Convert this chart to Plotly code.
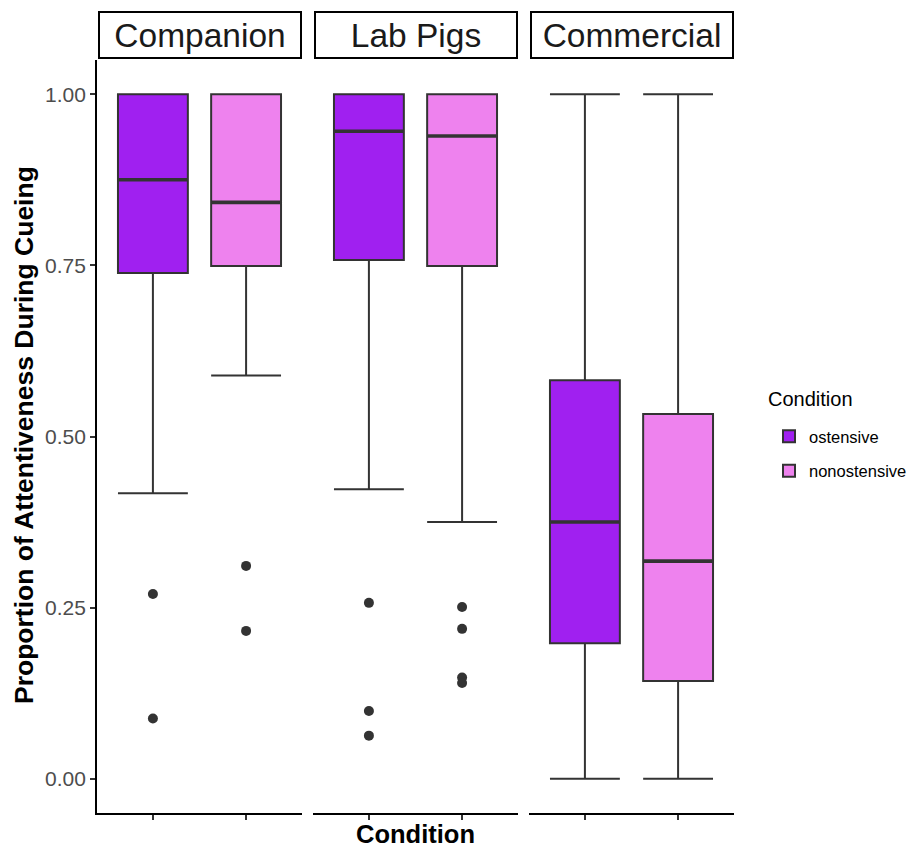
import plotly.graph_objects as go

# ---------------- data ----------------
groups = ["Companion", "Lab Pigs", "Commercial"]
conditions = ["ostensive", "nonostensive"]

ost_lower = [0.417, 0.423, 0.0]
ost_q1 = [0.739, 0.758, 0.198]
ost_median = [0.875, 0.946, 0.375]
ost_q3 = [1.0, 1.0, 0.582]
ost_upper = [1.0, 1.0, 1.0]
ost_outliers = [[0.270, 0.088], [0.257, 0.099, 0.063], []]

non_lower = [0.589, 0.375, 0.0]
non_q1 = [0.749, 0.749, 0.143]
non_median = [0.842, 0.939, 0.318]
non_q3 = [1.0, 1.0, 0.533]
non_upper = [1.0, 1.0, 1.0]
non_outliers = [[0.311, 0.216], [0.251, 0.219, 0.148, 0.140], []]

y_tickvals = [0.0, 0.25, 0.5, 0.75, 1.0]
y_ticktext = ["0.00", "0.25", "0.50", "0.75", "1.00"]

colors = {"ostensive": "#A020F0", "nonostensive": "#EE82EE"}

# ---------------- layout geometry ----------------
W, H = 909, 848
panels_px = [(97, 302), (313, 518), (529, 734)]
y_top_px, y_bot_px = 60, 813
ydom = [1 - y_bot_px / H, 1 - y_top_px / H]

FONT = "Liberation Sans, Arial, Helvetica, sans-serif"
LINE = "#333333"
BOXW = 0.75

stats = {
    "ostensive": (ost_lower, ost_q1, ost_median, ost_q3, ost_upper, ost_outliers),
    "nonostensive": (non_lower, non_q1, non_median, non_q3, non_upper, non_outliers),
}

fig = go.Figure()

for gi, g in enumerate(groups):
    xa = "x" if gi == 0 else f"x{gi + 1}"
    ya = "y" if gi == 0 else f"y{gi + 1}"
    for ci, c in enumerate(conditions):
        lo, q1, med, q3, up, outl = stats[c]
        fig.add_trace(go.Box(
            x=[ci], q1=[q1[gi]], median=[med[gi]], q3=[q3[gi]],
            lowerfence=[lo[gi]], upperfence=[up[gi]],
            width=BOXW, whiskerwidth=1,
            fillcolor=colors[c], line=dict(color=LINE, width=2),
            boxpoints=False, name=c, legendgroup=c,
            showlegend=(gi == 0), xaxis=xa, yaxis=ya, hoverinfo="skip",
        ))
        # thicker median line (ggplot fatten)
        fig.add_trace(go.Scatter(
            x=[ci - BOXW / 2, ci + BOXW / 2], y=[med[gi], med[gi]],
            mode="lines", line=dict(color=LINE, width=3.6),
            showlegend=False, xaxis=xa, yaxis=ya, hoverinfo="skip",
        ))
        if outl[gi]:
            fig.add_trace(go.Scatter(
                x=[ci] * len(outl[gi]), y=outl[gi], mode="markers",
                marker=dict(color=LINE, size=10),
                showlegend=False, xaxis=xa, yaxis=ya, hoverinfo="skip",
            ))

layout = dict(
    width=W, height=H,
    margin=dict(l=0, r=0, t=0, b=0, autoexpand=False),
    paper_bgcolor="white", plot_bgcolor="white",
    boxmode="overlay",
    font=dict(family=FONT, color="black"),
    legend=dict(
        font=dict(size=16.5, color="black", family=FONT),
        xref="container", yref="container",
        x=769 / W, xanchor="left", y=1 - 419 / H, yanchor="top",
        bgcolor="rgba(0,0,0,0)", itemwidth=30,
    ),
    annotations=[],
)

for gi, g in enumerate(groups):
    x0, x1 = panels_px[gi]
    xkey = "xaxis" if gi == 0 else f"xaxis{gi + 1}"
    ykey = "yaxis" if gi == 0 else f"yaxis{gi + 1}"
    xa = "x" if gi == 0 else f"x{gi + 1}"
    ya = "y" if gi == 0 else f"y{gi + 1}"
    layout[xkey] = dict(
        domain=[x0 / W, x1 / W], anchor=ya, range=[-0.6, 1.6],
        tickvals=[0, 1], ticktext=["", ""], ticks="outside", ticklen=5,
        tickcolor=LINE, tickwidth=1.5, showline=True, linecolor="black",
        linewidth=1.8, showgrid=False, zeroline=False, fixedrange=True,
        automargin=False,
    )
    ydict = dict(
        domain=ydom, anchor=xa, range=[-0.05, 1.05], showgrid=False,
        zeroline=False, fixedrange=True, automargin=False,
    )
    if gi == 0:
        ydict.update(
            tickvals=y_tickvals, ticktext=y_ticktext, ticks="outside",
            ticklen=5, tickcolor=LINE, tickwidth=1.5, showline=True,
            linecolor="black", linewidth=1.8,
            tickfont=dict(size=21, color="#4D4D4D", family=FONT),
        )
    else:
        ydict.update(showticklabels=False, showline=False, ticks="",
                     matches="y")
    layout[ykey] = ydict
    # strip label
    layout["annotations"].append(dict(
        text=g, xref="paper", yref="paper",
        x=(x0 + x1) / 2 / W, y=1 - 34.5 / H, xanchor="center", yanchor="middle",
        showarrow=False, font=dict(size=33.5, color="#1A1A1A", family=FONT),
        bordercolor="black", borderwidth=2, borderpad=0,
        width=200, height=44, bgcolor="white",
    ))

# legend title
layout["annotations"].append(dict(
    text="Condition", xref="paper", yref="paper",
    x=766 / W, y=1 - 399 / H, xanchor="left", yanchor="middle",
    showarrow=False, font=dict(size=20, color="black", family=FONT),
))
# axis titles
layout["annotations"].append(dict(
    text="<b>Condition</b>", xref="paper", yref="paper",
    x=(97 + 734) / 2 / W, y=1 - 834 / H, xanchor="center", yanchor="middle",
    showarrow=False, font=dict(size=25.5, color="black", family=FONT),
))
layout["annotations"].append(dict(
    text="<b>Proportion of Attentiveness During Cueing</b>", xref="paper",
    yref="paper", x=24 / W, y=1 - 435 / H, xanchor="center", yanchor="middle",
    textangle=-90, showarrow=False,
    font=dict(size=26.5, color="black", family=FONT),
))

fig.update_layout(**layout)
fig.write_html("out.html")
